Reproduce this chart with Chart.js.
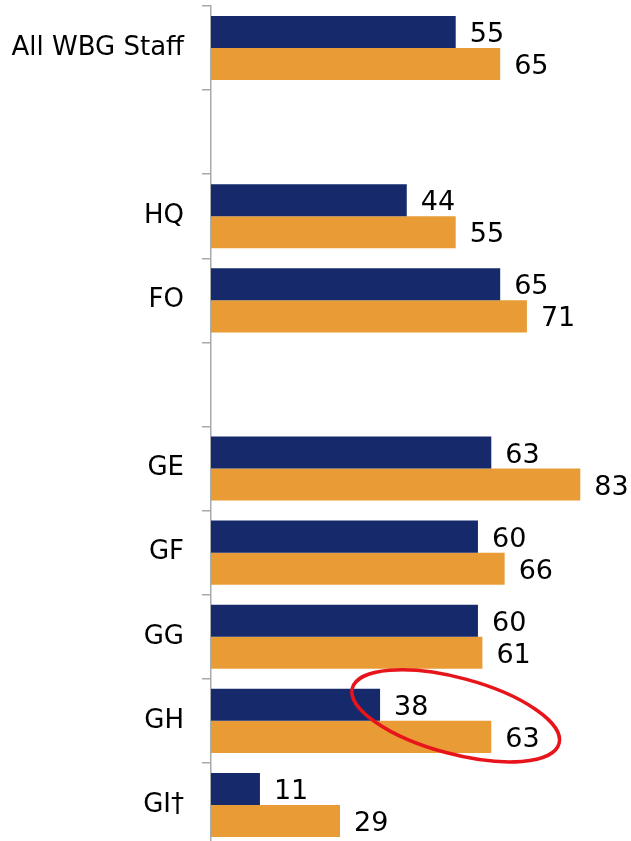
<!DOCTYPE html>
<html>
<head>
<meta charset="utf-8">
<script src="https://cdn.jsdelivr.net/npm/chart.js@4/dist/chart.umd.min.js"></script>
<style>
  html, body { margin: 0; padding: 0; background: #fff; overflow: hidden; }
  #wrap { width: 631px; height: 847px; }
</style>
</head>
<body>
<div id="wrap"><canvas id="chart"></canvas></div>
<script>
const categories = ["All WBG Staff", "", "HQ", "FO", "", "GE", "GF", "GG", "GH", "GI\u2020"]
const seriesA = [55, null, 44, 65, null, 63, 60, 60, 38, 11]
const seriesB = [65, null, 55, 71, null, 83, 66, 61, 63, 29]
const highlight = { category: "GH", value: 55 }

const navy = "#15296b"
const orange = "#e99b35"
const axisGray = "#a7abab"
const font = "DejaVu Sans"

const valueLabels = {
  id: "valueLabels",
  afterDatasetsDraw(chart) {
    const ctx = chart.ctx
    ctx.save()
    ctx.fillStyle = "#000"
    ctx.font = "27px '" + font + "'"
    ctx.textAlign = "left"
    ctx.textBaseline = "middle"
    chart.data.datasets.forEach((ds, i) => {
      chart.getDatasetMeta(i).data.forEach((bar, j) => {
        if (ds.data[j] == null) return
        ctx.fillText(ds.data[j], bar.x + 14, bar.y + 3)
      })
    })
    ctx.restore()
  }
}

const ring = {
  id: "ring",
  afterDraw(chart) {
    const x = chart.scales.x
    const y = chart.scales.y
    const cx = x.getPixelForValue(highlight.value)
    const cy = y.getPixelForValue(categories.indexOf(highlight.category)) - 5
    const ctx = chart.ctx
    ctx.save()
    ctx.strokeStyle = "#e8141b"
    ctx.lineWidth = 3.5
    ctx.beginPath()
    ctx.ellipse(cx, cy, 107, 38, 15 * Math.PI / 180, 0, Math.PI * 2)
    ctx.stroke()
    ctx.restore()
  }
}

new Chart(document.getElementById("chart"), {
  type: "bar",
  data: {
    labels: categories,
    datasets: [
      { data: seriesA, backgroundColor: navy },
      { data: seriesB, backgroundColor: orange }
    ]
  },
  options: {
    indexAxis: "y",
    responsive: true,
    maintainAspectRatio: false,
    animation: false,
    categoryPercentage: 0.762,
    barPercentage: 1,
    layout: { padding: { top: 6, right: 0, bottom: 0, left: 0 } },
    plugins: {
      legend: { display: false },
      tooltip: { enabled: false }
    },
    scales: {
      x: { display: false, min: 0, max: 94.4 },
      y: {
        offset: true,
        grid: { offset: true, drawOnChartArea: false, tickLength: 9, color: axisGray, lineWidth: 1.5 },
        border: { color: axisGray, width: 1.5 },
        ticks: { color: "#000", padding: 18, font: { family: font, size: 26 } },
        afterFit(scale) {
          scale.width = 211
          scale.paddingTop = 0
          scale.paddingBottom = 0
        }
      }
    }
  },
  plugins: [valueLabels, ring]
})
</script>
</body>
</html>
